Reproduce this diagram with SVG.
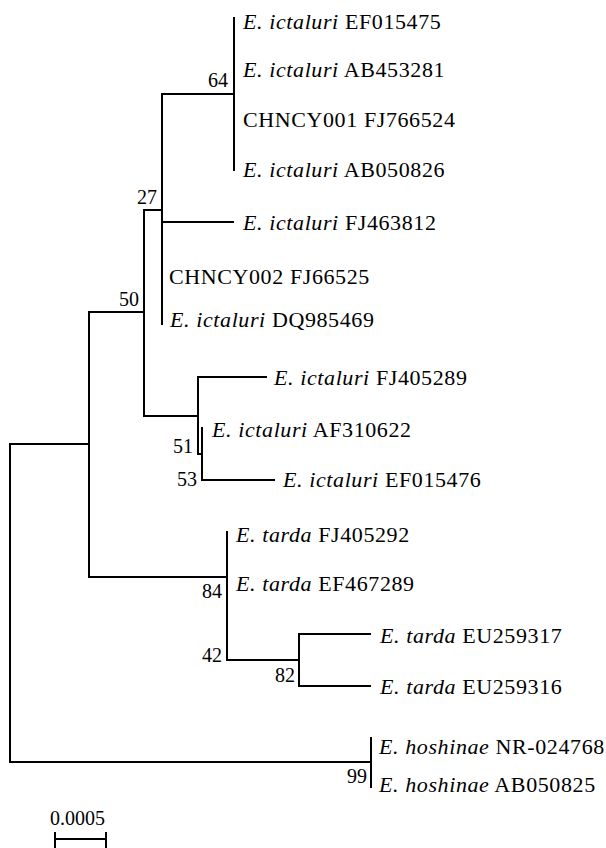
<svg xmlns="http://www.w3.org/2000/svg" width="606" height="848" viewBox="0 0 606 848">
  <style>
    .br { stroke: #000; stroke-width: 2; fill: none; stroke-linecap: square; }
    .lb { font-family: "Liberation Serif", "Times New Roman", serif; font-size: 22px; fill: #000; letter-spacing: 0.6px; }
    .sp { font-style: italic; }
    .bs { font-family: "Liberation Serif", "Times New Roman", serif; font-size: 20px; fill: #000; text-anchor: end; }
  </style>
  <rect width="606" height="848" fill="#fff"/>

  <!-- tree branches -->
  <g id="branches" class="br">
    <!-- root -->
    <path d="M10 444 V762"/>
    <path d="M10 444 H89"/>
    <path d="M10 762 H371"/>
    <!-- node 50 -->
    <path d="M89 312 V577"/>
    <path d="M89 312 H144"/>
    <path d="M89 577 H227"/>
    <!-- ictaluri clade -->
    <path d="M144 210 V416"/>
    <path d="M144 210 H162"/>
    <path d="M144 416 H198"/>
    <!-- node 27 -->
    <path d="M162 94 V324"/>
    <path d="M162 222 H233"/>
    <path d="M162 94 H234"/>
    <!-- node 64 -->
    <path d="M234 18 V170"/>
    <!-- FJ405289 group -->
    <path d="M198 377 V454"/>
    <path d="M198 377 H266"/>
    <path d="M198 454 H202"/>
    <path d="M202 428 V480"/>
    <path d="M202 480 H274"/>
    <!-- tarda clade -->
    <path d="M227 532 V660"/>
    <path d="M227 660 H299"/>
    <path d="M299 634 V686"/>
    <path d="M299 634 H370"/>
    <path d="M299 686 H370"/>
    <!-- hoshinae -->
    <path d="M371 738 V787"/>
    <!-- scale bar -->
    <path d="M55 839 H106"/>
    <path d="M55 833 V848"/>
    <path d="M106 833 V848"/>
  </g>

  <!-- leaf labels -->
  <g id="leaf-EF015475"><text class="lb" x="243" y="29"><tspan class="sp">E. ictaluri</tspan> EF015475</text></g>
  <g id="leaf-AB453281"><text class="lb" x="243" y="77"><tspan class="sp">E. ictaluri</tspan> AB453281</text></g>
  <g id="leaf-CHNCY001"><text class="lb" x="243" y="127">CHNCY001 FJ766524</text></g>
  <g id="leaf-AB050826"><text class="lb" x="243" y="177"><tspan class="sp">E. ictaluri</tspan> AB050826</text></g>
  <g id="leaf-FJ463812"><text class="lb" x="243" y="230"><tspan class="sp">E. ictaluri</tspan> FJ463812</text></g>
  <g id="leaf-CHNCY002"><text class="lb" x="169" y="284">CHNCY002 FJ66525</text></g>
  <g id="leaf-DQ985469"><text class="lb" x="170" y="327"><tspan class="sp">E. ictaluri</tspan> DQ985469</text></g>
  <g id="leaf-FJ405289"><text class="lb" x="274" y="385"><tspan class="sp">E. ictaluri</tspan> FJ405289</text></g>
  <g id="leaf-AF310622"><text class="lb" x="212" y="437"><tspan class="sp">E. ictaluri</tspan> AF310622</text></g>
  <g id="leaf-EF015476"><text class="lb" x="283" y="487"><tspan class="sp">E. ictaluri</tspan> EF015476</text></g>
  <g id="leaf-FJ405292"><text class="lb" x="236" y="542"><tspan class="sp">E. tarda</tspan> FJ405292</text></g>
  <g id="leaf-EF467289"><text class="lb" x="236" y="591"><tspan class="sp">E. tarda</tspan> EF467289</text></g>
  <g id="leaf-EU259317"><text class="lb" x="380" y="643"><tspan class="sp">E. tarda</tspan> EU259317</text></g>
  <g id="leaf-EU259316"><text class="lb" x="380" y="694"><tspan class="sp">E. tarda</tspan> EU259316</text></g>
  <g id="leaf-NR-024768"><text class="lb" x="379" y="754"><tspan class="sp">E. hoshinae</tspan> NR-024768</text></g>
  <g id="leaf-AB050825"><text class="lb" x="379" y="792"><tspan class="sp">E. hoshinae</tspan> AB050825</text></g>

  <!-- bootstrap values -->
  <g id="bootstrap">
    <text class="bs" x="228" y="87">64</text>
    <text class="bs" x="157" y="204">27</text>
    <text class="bs" x="139" y="306">50</text>
    <text class="bs" x="193" y="453">51</text>
    <text class="bs" x="197" y="486">53</text>
    <text class="bs" x="222" y="598">84</text>
    <text class="bs" x="222" y="662">42</text>
    <text class="bs" x="295" y="682">82</text>
    <text class="bs" x="367" y="783">99</text>
  </g>

  <!-- scale -->
  <g id="scale">
    <text class="bs" x="50" y="825" style="text-anchor:start">0.0005</text>
  </g>
</svg>
